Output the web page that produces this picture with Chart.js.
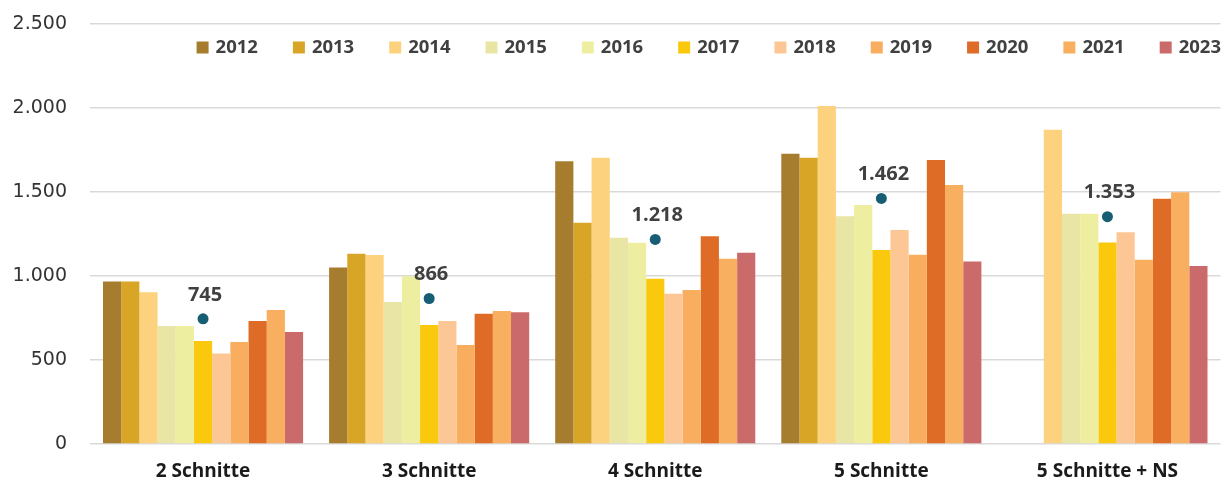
<!DOCTYPE html>
<html>
<head>
<meta charset="utf-8">
<script src="https://cdn.jsdelivr.net/npm/chart.js@4/dist/chart.umd.min.js"></script>
<style>
  body { margin: 0; background: #fff; }
  #wrap { width: 1226px; height: 481px; position: relative; }
</style>
</head>
<body>
<div id="wrap"><canvas id="chart"></canvas></div>
<script>
// categories and series
var categories = ['2 Schnitte', '3 Schnitte', '4 Schnitte', '5 Schnitte', '5 Schnitte + NS'];
var years = ['2012', '2013', '2014', '2015', '2016', '2017', '2018', '2019', '2020', '2021', '2023'];
var yearColors = ['#A67C2E', '#D9A527', '#FDD27E', '#E9E5A5', '#EEEEA0', '#FAC90E', '#FCC794', '#F8AE5E', '#DE6B26', '#F8AF5F', '#CB6A6A'];

var v2012 = [968, 1050, 1683, 1728, null];
var v2013 = [968, 1133, 1317, 1704, null];
var v2014 = [903, 1125, 1704, 2012, 1870];
var v2015 = [702, 845, 1228, 1355, 1371];
var v2016 = [702, 998, 1198, 1423, 1371];
var v2017 = [613, 708, 984, 1155, 1200];
var v2018 = [538, 732, 895, 1274, 1260];
var v2019 = [607, 589, 917, 1127, 1097];
var v2020 = [732, 776, 1236, 1690, 1460];
var v2021 = [798, 792, 1103, 1542, 1498];
var v2023 = [667, 784, 1139, 1087, 1060];
var average = [745, 866, 1218, 1462, 1353];

var yTicks = [0, 500, 1000, 1500, 2000, 2500];

var seriesValues = [v2012, v2013, v2014, v2015, v2016, v2017, v2018, v2019, v2020, v2021, v2023];

function fmt(n) {
    return String(n).replace(/\B(?=(\d{3})+(?!\d))/g, '.');
}

var datasets = years.map(function(y, i) {
    return {
        type: 'bar',
        label: y,
        data: seriesValues[i],
        backgroundColor: yearColors[i],
        borderWidth: 0,
        barPercentage: 1.0,
        categoryPercentage: 0.885,
        order: 2
    };
});

datasets.push({
    type: 'line',
    label: 'Durchschnitt',
    data: average,
    showLine: false,
    pointRadius: 5.5,
    pointBackgroundColor: '#175E74',
    pointBorderWidth: 0,
    order: 1
});

// legend drawn in the plot area, right aligned
var legendPlugin = {
    id: 'topLegend',
    afterDraw: function(chart) {
        var ctx = chart.ctx;
        ctx.save();
        ctx.font = 'bold 18.5px "Open Sans"';
        ctx.textBaseline = 'middle';
        var y = 47.5;
        var x = 1221;
        for (var i = years.length - 1; i >= 0; i--) {
            var w = ctx.measureText(years[i]).width;
            x -= w;
            ctx.fillStyle = '#404040';
            ctx.textAlign = 'left';
            ctx.fillText(years[i], x, y);
            x -= 7 + 12;
            ctx.fillStyle = yearColors[i];
            ctx.fillRect(x, y - 6, 12, 12);
            x -= 35;
        }
        ctx.restore();
    }
};

// value labels above the average dots
var avgLabels = {
    id: 'avgLabels',
    afterDatasetsDraw: function(chart) {
        var ctx = chart.ctx;
        var meta = chart.getDatasetMeta(years.length);
        ctx.save();
        ctx.font = 'bold 20px "Open Sans"';
        ctx.fillStyle = '#404040';
        ctx.textAlign = 'center';
        ctx.textBaseline = 'middle';
        meta.data.forEach(function(pt, i) {
            ctx.fillText(fmt(average[i]), pt.x + 2, pt.y - 24);
        });
        ctx.restore();
    }
};

var ctx = document.getElementById('chart').getContext('2d');
var chart = new Chart(ctx, {
    data: {
        labels: categories,
        datasets: datasets
    },
    options: {
        responsive: true,
        maintainAspectRatio: false,
        animation: false,
        layout: {
            padding: { top: 24, right: 0, left: 0, bottom: 0 }
        },
        scales: {
            x: {
                grid: { display: false, drawTicks: false },
                border: { display: false },
                ticks: {
                    color: '#1a1a1a',
                    font: { family: '"Open Sans"', size: 19, weight: 'bold' },
                    padding: 16
                },
                afterFit: function(scale) {
                    scale.height = 37;
                    scale.paddingLeft = 0;
                    scale.paddingRight = 0;
                }
            },
            y: {
                min: 0,
                max: 2500,
                afterBuildTicks: function(scale) {
                    scale.ticks = yTicks.map(function(v) { return { value: v }; });
                },
                grid: { color: '#d9d9d9', lineWidth: 1.5, drawTicks: false },
                border: { display: false },
                ticks: {
                    color: '#333333',
                    font: { family: '"DejaVu Sans"', size: 19 },
                    padding: 23,
                    callback: function(v) { return fmt(v); }
                },
                afterFit: function(scale) {
                    scale.width = 90;
                    scale.paddingTop = 0;
                    scale.paddingBottom = 0;
                }
            }
        },
        plugins: {
            legend: { display: false },
            tooltip: { enabled: false }
        }
    },
    plugins: [legendPlugin, avgLabels]
});
</script>
</body>
</html>
